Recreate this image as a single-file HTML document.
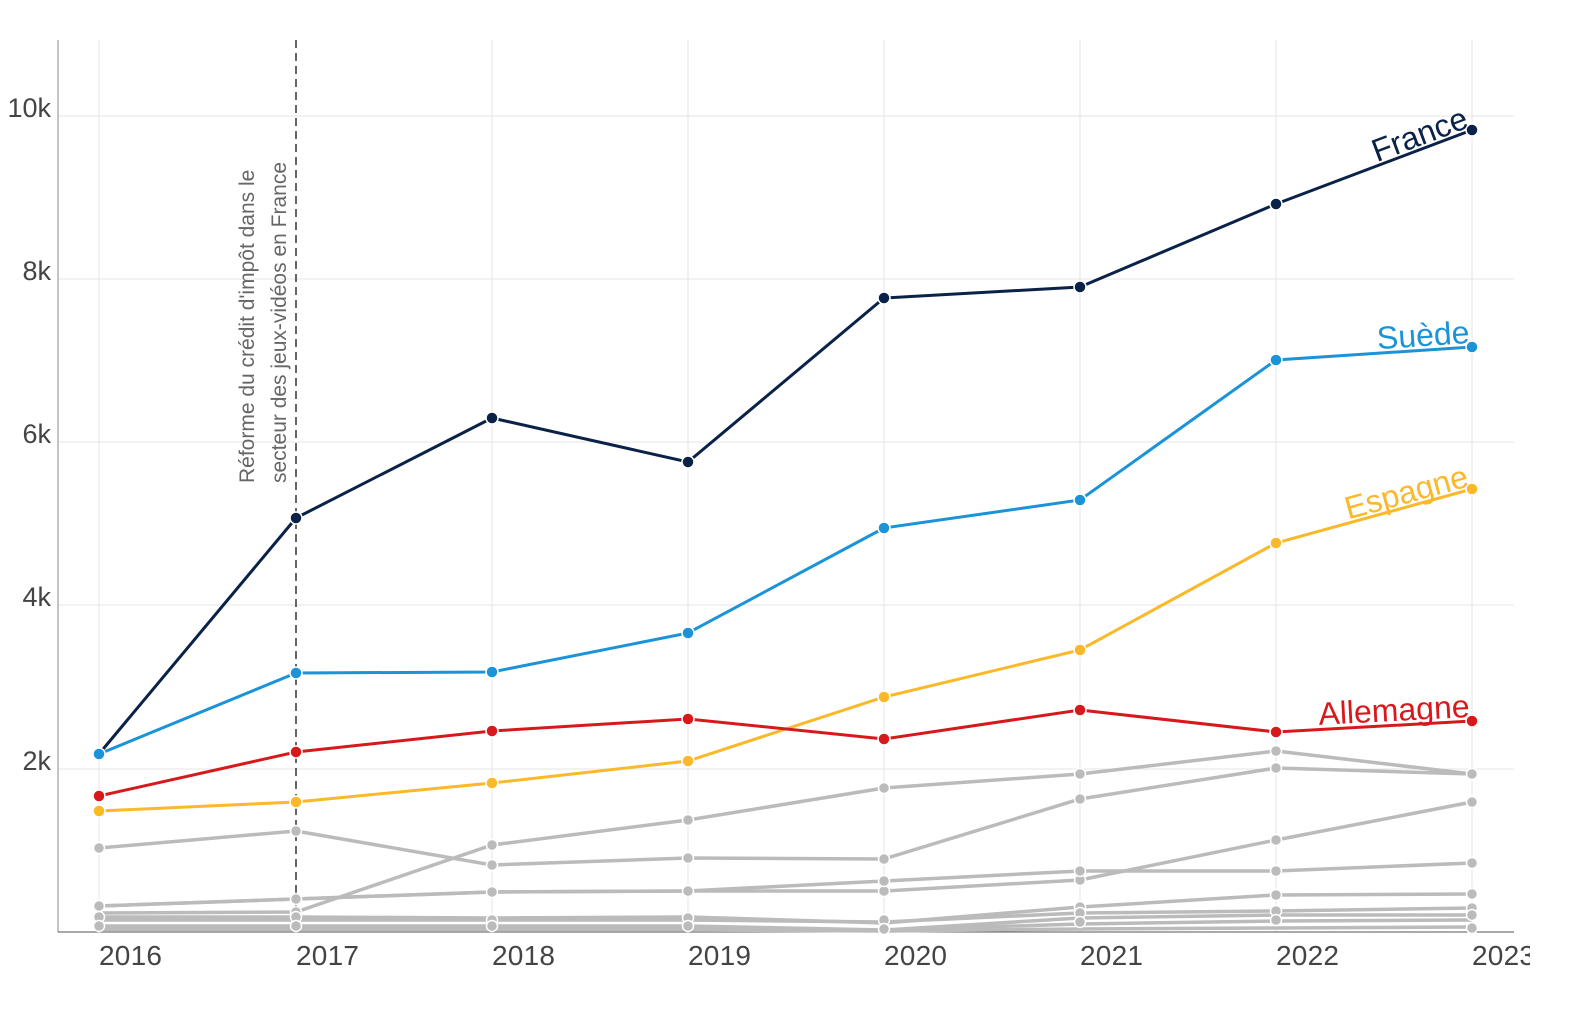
<!DOCTYPE html>
<html><head><meta charset="utf-8"><style>
body{margin:0;background:#fff;width:1586px;height:1016px;overflow:hidden}
svg{display:block;font-family:"Liberation Sans",sans-serif}
</style></head><body>
<svg width="1586" height="1016" viewBox="0 0 1586 1016">
<g stroke="#e6e6e6" stroke-width="1">
<line x1="58" x2="1514" y1="116" y2="116"/><line x1="58" x2="1514" y1="279" y2="279"/><line x1="58" x2="1514" y1="442" y2="442"/><line x1="58" x2="1514" y1="605" y2="605"/><line x1="58" x2="1514" y1="769" y2="769"/>
<line x1="99" x2="99" y1="40" y2="932"/><line x1="492" x2="492" y1="40" y2="932"/><line x1="688" x2="688" y1="40" y2="932"/><line x1="884" x2="884" y1="40" y2="932"/><line x1="1080" x2="1080" y1="40" y2="932"/><line x1="1276" x2="1276" y1="40" y2="932"/><line x1="1472" x2="1472" y1="40" y2="932"/>
</g>
<line x1="58" x2="58" y1="40" y2="932" stroke="#888"/>
<line x1="58" x2="1514" y1="932" y2="932" stroke="#555"/>
<g font-size="27" fill="#444">
<text x="51" y="117" text-anchor="end">10k</text><text x="51" y="280" text-anchor="end">8k</text><text x="51" y="443" text-anchor="end">6k</text><text x="51" y="606" text-anchor="end">4k</text><text x="51" y="770" text-anchor="end">2k</text>
</g>
<g font-size="28" fill="#444" textLength="63">
<text x="99" y="965" textLength="63">2016</text><text x="296" y="965" textLength="63">2017</text><text x="492" y="965" textLength="63">2018</text><text x="688" y="965" textLength="63">2019</text><text x="884" y="965" textLength="63">2020</text><text x="1080" y="965" textLength="63">2021</text><text x="1276" y="965" textLength="63">2022</text><text x="1472" y="965" textLength="63">2023</text>
</g>
<rect x="1530" y="930" width="60" height="50" fill="#fff"/>
<line x1="296" x2="296" y1="40" y2="932" stroke="#333" stroke-width="1.5" stroke-dasharray="8,5"/>
<g font-size="21" fill="#666" transform="rotate(-90)">
<text x="-483" y="254">Réforme du crédit d'impôt dans le</text>
<text x="-483" y="286">secteur des jeux-vidéos en France</text>
</g>
<g fill="none" stroke="#bbb" stroke-width="3.5">
<polyline points="99,930 296,930 492,930 688,930 884,931 1080,929 1276,928 1472,927"/>
<polyline points="99,928 296,928 492,928 688,928 884,930 1080,924 1276,921 1472,920"/>
<polyline points="99,926 296,926 492,926 688,926 884,930 1080,918 1276,915 1472,915"/>
<polyline points="99,920 296,920 492,920 688,920 884,922 1080,913 1276,911 1472,908"/>
<polyline points="99,917 296,917 492,918 688,917 884,923 1080,907 1276,895 1472,894"/>
<polyline points="99,906 296,899 492,892 688,891 884,881 1080,871 1276,871 1472,863"/>
<polyline points="99,906 296,899 492,892 688,891 884,891 1080,880 1276,840 1472,802"/>
<polyline points="99,913 296,912 492,845 688,820 884,788 1080,774 1276,751 1472,774"/>
<polyline points="99,848 296,831 492,865 688,858 884,859 1080,799 1276,768 1472,774"/>
</g>
<g fill="#bbb" stroke="#fff" stroke-width="1.5">
<circle cx="99" cy="848" r="5.5"/><circle cx="296" cy="831" r="5.5"/><circle cx="492" cy="865" r="5.5"/><circle cx="688" cy="858" r="5.5"/><circle cx="884" cy="859" r="5.5"/><circle cx="1080" cy="799" r="5.5"/><circle cx="1276" cy="768" r="5.5"/><circle cx="1472" cy="774" r="5.5"/>
<circle cx="492" cy="845" r="5.5"/><circle cx="688" cy="820" r="5.5"/><circle cx="884" cy="788" r="5.5"/><circle cx="1080" cy="774" r="5.5"/><circle cx="1276" cy="751" r="5.5"/><circle cx="1472" cy="802" r="5.5"/><circle cx="1276" cy="840" r="5.5"/>
<circle cx="99" cy="906" r="5.5"/><circle cx="296" cy="899" r="5.5"/><circle cx="492" cy="892" r="5.5"/><circle cx="688" cy="891" r="5.5"/><circle cx="884" cy="891" r="5.5"/><circle cx="884" cy="881" r="5.5"/><circle cx="1080" cy="880" r="5.5"/><circle cx="1080" cy="871" r="5.5"/><circle cx="1276" cy="871" r="5.5"/><circle cx="1472" cy="863" r="5.5"/>
<circle cx="1080" cy="907" r="5.5"/><circle cx="1276" cy="895" r="5.5"/><circle cx="1472" cy="894" r="5.5"/>
<circle cx="99" cy="917" r="5.5"/><circle cx="296" cy="912" r="5.5"/><circle cx="296" cy="917" r="5.5"/><circle cx="492" cy="920" r="5.5"/><circle cx="688" cy="918" r="5.5"/><circle cx="884" cy="920" r="5.5"/><circle cx="1080" cy="913" r="5.5"/><circle cx="1276" cy="911" r="5.5"/><circle cx="1472" cy="908" r="5.5"/>
<circle cx="99" cy="926" r="5.5"/><circle cx="296" cy="926" r="5.5"/><circle cx="492" cy="926" r="5.5"/><circle cx="688" cy="926" r="5.5"/><circle cx="884" cy="929" r="5.5"/><circle cx="1080" cy="922" r="5.5"/><circle cx="1276" cy="920" r="5.5"/><circle cx="1472" cy="915" r="5.5"/><circle cx="1472" cy="928" r="5.5"/>
</g>
<g fill="none" stroke-width="3">
<polyline stroke="#fbb829" points="99,811 296,802 492,783 688,761 884,697 1080,650 1276,543 1472,489"/>
<polyline stroke="#d7191c" points="99,796 296,752 492,731 688,719 884,739 1080,710 1276,732 1472,721"/>
<polyline stroke="#1b93d9" points="99,754 296,673 492,672 688,633 884,528 1080,500 1276,360 1472,347"/>
<polyline stroke="#0a2248" points="99,754 296,518 492,418 688,462 884,298 1080,287 1276,204 1472,130"/>
</g>
<g stroke="#fff" stroke-width="1.5">
<g fill="#fbb829"><circle cx="99" cy="811" r="6"/><circle cx="296" cy="802" r="6"/><circle cx="492" cy="783" r="6"/><circle cx="688" cy="761" r="6"/><circle cx="884" cy="697" r="6"/><circle cx="1080" cy="650" r="6"/><circle cx="1276" cy="543" r="6"/><circle cx="1472" cy="489" r="6"/></g>
<g fill="#d7191c"><circle cx="99" cy="796" r="6"/><circle cx="296" cy="752" r="6"/><circle cx="492" cy="731" r="6"/><circle cx="688" cy="719" r="6"/><circle cx="884" cy="739" r="6"/><circle cx="1080" cy="710" r="6"/><circle cx="1276" cy="732" r="6"/><circle cx="1472" cy="721" r="6"/></g>
<g fill="#1b93d9"><circle cx="99" cy="754" r="6"/><circle cx="296" cy="673" r="6"/><circle cx="492" cy="672" r="6"/><circle cx="688" cy="633" r="6"/><circle cx="884" cy="528" r="6"/><circle cx="1080" cy="500" r="6"/><circle cx="1276" cy="360" r="6"/><circle cx="1472" cy="347" r="6"/></g>
<g fill="#0a2248"><circle cx="296" cy="518" r="6"/><circle cx="492" cy="418" r="6"/><circle cx="688" cy="462" r="6"/><circle cx="884" cy="298" r="6"/><circle cx="1080" cy="287" r="6"/><circle cx="1276" cy="204" r="6"/><circle cx="1472" cy="130" r="6"/></g>
</g>
<g font-size="32" text-anchor="end">
<text fill="#0a2248" transform="translate(1470,127) rotate(-20.7)">France</text>
<text fill="#1b93d9" transform="translate(1470,343) rotate(-3.8)">Suède</text>
<text fill="#fbb829" transform="translate(1470,486) rotate(-15.4)">Espagne</text>
<text fill="#d7191c" transform="translate(1470,717) rotate(-3)">Allemagne</text>
</g>
</svg>
</body></html>
